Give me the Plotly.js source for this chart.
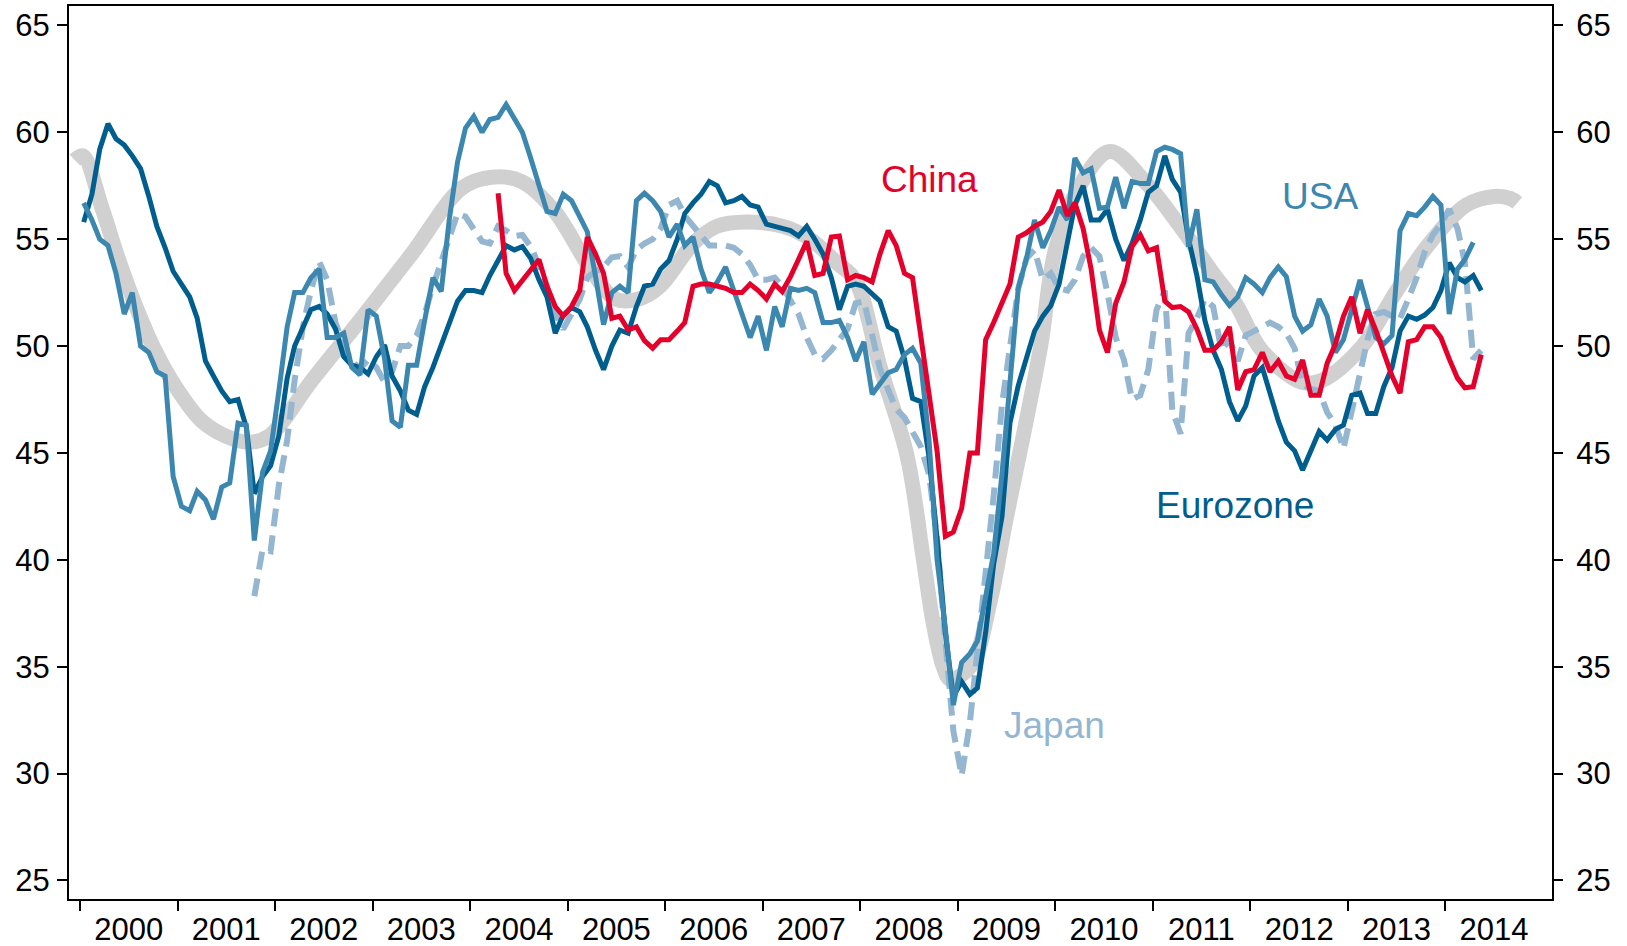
<!DOCTYPE html>
<html>
<head>
<meta charset="utf-8">
<script src="https://cdn.plot.ly/plotly-3.0.1.min.js"></script>
<style>
  html, body { margin: 0; padding: 0; background: #ffffff; }
  #chart { width: 1627px; height: 946px; }
</style>
</head>
<body>
<div id="chart"></div>
<script>
// ---------- Data (monthly PMI readings) ----------
// Eurozone: Jan 2000 - May 2014
const eurozoneStart = [2000, 1];
const eurozone = [
  55.8, 57.1, 59.2, 60.4, 59.7, 59.4, 58.9, 58.3, 57.0, 55.6, 54.6, 53.5,
  52.9, 52.3, 51.3, 49.3, 48.6, 47.9, 47.4, 47.5, 46.2, 43.1, 43.9, 44.4,
  45.8, 48.5, 50.0, 50.9, 51.7, 51.85, 51.5, 50.8, 49.5, 49.1, 49.0, 48.7,
  49.5, 50.05, 48.6, 47.9, 47.0, 46.8, 48.1, 49.0, 50.0, 51.1, 52.1, 52.6,
  52.6, 52.5, 53.3, 54.0, 54.7, 54.5, 54.65, 54.1, 53.1, 52.3, 50.6, 51.45,
  51.8, 51.6, 50.9, 49.8, 48.9, 50.0, 50.75, 50.6, 51.85, 52.8, 52.9, 53.6,
  54.0, 55.0, 56.2, 56.7, 57.1, 57.7, 57.5, 56.7, 56.8, 57.0, 56.6, 56.5,
  55.7, 55.6, 55.5, 55.4, 55.15, 55.6, 55.0, 54.3, 53.2, 51.7, 52.8, 52.9,
  52.8, 52.4, 52.1, 50.9, 50.7, 49.4, 47.55, 47.4, 44.8, 41.0, 36.6, 33.6,
  34.3, 33.7, 34.0, 36.6, 39.8, 42.0, 46.4, 48.15, 49.4, 50.7, 51.4, 51.9,
  52.9, 54.8, 56.6, 57.5, 55.9, 55.9, 56.4, 55.0, 54.0, 54.8, 55.9, 57.2,
  57.5, 58.9, 57.8, 57.2, 55.0, 53.3, 51.2, 49.8, 48.9, 47.4, 46.5, 47.2,
  48.6, 49.0, 47.7, 46.5, 45.5, 45.1, 44.2, 45.1, 46.0, 45.6, 46.1, 46.3,
  47.7, 47.8, 46.85, 46.85, 48.1, 49.0, 50.7, 51.4, 51.25, 51.45, 51.8, 52.6,
  53.9, 53.2, 53.0, 53.3, 52.6
];

// USA: Jan 2000 - Apr 2014
const usaStart = [2000, 1];
const usa = [
  56.7, 55.9, 55.0, 54.7, 53.4, 51.5, 52.5, 50.0, 49.7, 48.8, 48.6, 43.9,
  42.5, 42.3, 43.2, 42.8, 41.9, 43.4, 43.6, 46.4, 46.3, 40.9, 44.1, 45.1,
  47.9, 50.9, 52.5, 52.5, 53.2, 53.6, 50.4, 50.4, 50.6, 49.0, 48.65, 51.7,
  51.4, 49.4, 46.5, 46.2, 49.1, 49.1, 51.2, 53.2, 52.55, 55.9, 58.6, 60.2,
  60.75, 60.0, 60.6, 60.7, 61.3, 60.6, 60.0, 58.8, 57.5, 56.3, 56.2, 57.1,
  56.8, 56.1, 55.35, 53.25, 51.0, 52.5, 52.8, 52.5, 56.8, 57.15, 56.8, 56.3,
  55.1, 55.7, 54.7, 55.1, 53.6, 52.5, 53.0, 53.7, 52.55, 51.5, 50.4, 51.4,
  49.8, 51.85, 50.9, 52.7, 52.6, 52.7, 52.5, 51.1, 51.1, 51.2, 50.4, 49.3,
  50.2, 47.75, 48.25, 48.75, 48.9, 49.6, 49.9, 49.2, 45.6, 40.0, 36.8, 33.2,
  35.2, 35.6, 36.2, 38.4, 40.3, 44.0, 48.0, 52.7, 54.1, 55.9, 54.6, 55.4,
  56.5, 55.9, 58.8, 58.1, 58.3, 56.45, 56.5, 57.9, 56.45, 57.7, 57.6, 57.6,
  59.1, 59.3, 59.2, 59.0, 54.65, 56.4, 53.1, 53.0, 52.4, 51.9, 52.3, 53.2,
  52.9, 52.5, 53.2, 53.7, 53.25, 51.4, 50.7, 51.0, 52.2, 51.4, 49.7, 50.3,
  51.7, 53.1, 51.85, 50.4, 50.1, 50.5, 55.4, 56.2, 56.1, 56.5, 57.0, 56.6,
  51.5, 53.6, 54.05, 54.85
];

// China: Apr 2004 - May 2014
const chinaStart = [2004, 4];
const china = [
  57.15, 53.4, 52.6, 53.1, 53.6, 54.05, 52.8, 51.85, 51.4,
  51.85, 52.6, 55.1, 54.3, 53.4, 51.3, 51.4, 50.75, 50.9, 50.25, 49.9, 50.3,
  50.3, 50.7, 51.1, 52.8, 52.9, 52.9, 52.8, 52.7, 52.5, 52.5, 52.9, 52.6,
  52.2, 52.9, 52.55, 53.25, 54.05, 54.9, 53.3, 53.4, 55.1, 55.15, 53.1, 53.3,
  53.2, 53.0, 54.3, 55.4, 54.7, 53.4, 53.2, 50.5, 47.65, 45.1, 41.1, 41.3,
  42.4, 45.0, 45.0, 50.3, 51.1, 52.0, 52.9, 55.1, 55.3, 55.6, 55.8, 56.3,
  57.3, 56.1, 56.7, 55.5, 53.6, 50.75, 49.7, 52.0, 53.0, 54.65, 55.2, 54.45,
  54.6, 52.1, 51.8, 51.85, 51.6, 50.8, 49.8, 49.8, 50.2, 50.9, 47.95, 48.8,
  48.9, 49.7, 48.8, 49.3, 48.6, 48.45, 49.35, 47.7, 47.7, 49.2, 50.1, 51.4,
  52.3, 50.6, 51.7, 50.75, 49.7, 48.6, 47.8, 50.2, 50.3, 50.9, 50.9, 50.4,
  49.4, 48.5, 48.05, 48.1, 49.6
];

// Japan: Oct 2001 - May 2014
const japanStart = [2001, 10];
const japan = [
  38.3, 40.5, 40.4,
  43.5, 45.6, 48.4, 50.9, 52.6, 53.95, 53.1, 51.1, 50.0, 49.3, 48.95, 49.35,
  49.0, 48.3, 48.8, 50.0, 50.0, 50.5, 51.5, 52.8, 53.9, 55.1, 56.2, 56.05,
  55.5, 54.9, 54.8, 55.6, 55.4, 55.15, 55.2, 54.65, 53.8, 52.8, 51.5, 50.8,
  51.5, 52.2, 53.2, 53.5, 53.7, 54.15, 54.2, 53.7, 54.5, 54.8, 55.0, 55.5,
  56.6, 56.8, 56.1, 55.6, 55.2, 54.7, 54.7, 54.7, 54.6, 54.3, 53.8, 53.1,
  53.1, 53.2, 52.8, 52.2, 51.5, 50.4, 49.6, 49.4, 49.8, 50.3, 50.8, 52.0,
  52.1, 50.5, 48.95, 47.95, 47.05, 46.65, 46.0, 45.3, 44.0, 41.0, 36.2, 32.0,
  29.9, 32.4, 35.7, 39.2, 43.0, 47.25, 50.1, 52.7, 54.1, 54.5, 53.1, 53.4,
  52.7, 52.6, 53.1, 54.2, 54.6, 54.2, 52.5, 50.4, 49.35, 47.5, 47.7, 48.9,
  51.7, 52.6, 47.0, 45.9, 50.6, 51.3, 52.2, 51.85, 49.8, 50.3, 49.3, 50.5,
  50.7, 50.9, 51.1, 50.9, 50.6, 49.9, 48.2, 48.0, 47.9, 46.9, 46.3, 45.2,
  47.0, 48.6, 50.3, 51.5, 51.6, 51.4, 51.3, 52.2, 53.2, 54.4, 55.2, 55.7,
  56.4, 55.5, 53.9, 49.4, 49.8
];

// Global cycle (thick grey band): points read along its centre
const cycleDates = [
  '1999-12-13','2000-01-12','2000-03-25','2000-05-26','2000-07-27','2000-10-12','2000-12-24',
  '2001-04-01','2001-06-28','2001-09-24','2001-12-10','2002-05-19','2002-11-21','2003-05-27',
  '2003-12-02','2004-03-21','2004-07-12','2004-11-13','2005-03-18','2005-06-28','2005-09-24',
  '2005-12-13','2006-04-16','2006-07-13','2006-11-03','2007-03-18','2007-06-28','2007-10-05',
  '2007-12-13','2008-03-14','2008-06-24','2008-08-25','2008-10-01','2008-11-07','2008-12-02',
  '2009-01-01','2009-02-28','2009-05-01','2009-07-02','2009-09-06','2009-11-07','2010-01-01',
  '2010-04-02','2010-07-24','2010-12-09','2011-04-13','2011-08-15','2011-11-07','2012-02-13',
  '2012-07-13','2012-09-27','2013-02-24','2013-06-28','2013-10-27','2014-03-21','2014-07-02',
  '2014-09-02','2014-09-27'
];
const cycle = [
  58.7, 58.9, 56.4, 54.0, 51.9, 49.7, 48.1,
  46.5, 45.8, 45.5, 45.8, 48.4, 51.3, 54.3,
  57.4, 57.9, 57.7, 56.3, 53.8, 52.2, 52.2,
  52.8, 54.8, 55.6, 55.8, 55.6, 55.0, 53.9,
  53.1, 49.1, 44.9, 40.0, 37.0, 35.0, 34.4,
  34.5, 35.2, 38.0, 42.0, 46.0, 50.0, 54.5,
  57.5, 59.1, 57.6, 55.6, 53.4, 52.0, 49.8,
  48.3, 48.4, 50.0, 52.5, 54.7, 56.6, 57.0,
  56.9, 56.7
];

// Axis ticks
const yearTicks = ['2000','2001','2002','2003','2004','2005','2006','2007','2008','2009','2010','2011','2012','2013','2014'];
const yTicks = [25, 30, 35, 40, 45, 50, 55, 60, 65];

// Series labels
const labels = [
  { text: 'China',    x: '2008-09-15', y: 57.8,  color: '#e4002b' },
  { text: 'USA',      x: '2012-09-19', y: 56.98, color: '#3b87b0' },
  { text: 'Eurozone', x: '2011-11-03', y: 42.55, color: '#005e8e' },
  { text: 'Japan',    x: '2009-12-28', y: 32.26, color: '#94b6d0' }
];

// ---------- helpers ----------
function monthDates(start, n) {
  const out = [];
  let y = start[0], m = start[1];
  for (let i = 0; i < n; i++) {
    out.push(y + '-' + String(m).padStart(2, '0') + '-15');
    m++; if (m > 12) { m = 1; y++; }
  }
  return out;
}

const FONT = 'Liberation Sans, Arial, Helvetica, sans-serif';
const TICKSIZE = 31;
const xRange = ['1999-11-21', '2015-02-04'];
const yRange = [24.13, 65.91];

const traces = [
  { x: cycleDates, y: cycle, type: 'scatter', mode: 'lines', name: 'Cycle',
    line: { color: '#d0d0d0', width: 15, shape: 'spline', smoothing: 1 }, hoverinfo: 'skip' },
  { x: monthDates(japanStart, japan.length), y: japan, type: 'scatter', mode: 'lines', name: 'Japan',
    line: { color: '#94b6d0', width: 6, dash: '18px,9px' } },
  { x: monthDates(eurozoneStart, eurozone.length), y: eurozone, type: 'scatter', mode: 'lines', name: 'Eurozone',
    line: { color: '#005e8e', width: 5 } },
  { x: monthDates(usaStart, usa.length), y: usa, type: 'scatter', mode: 'lines', name: 'USA',
    line: { color: '#3b87b0', width: 5 } },
  { x: monthDates(chinaStart, china.length), y: china, type: 'scatter', mode: 'lines', name: 'China',
    line: { color: '#e4002b', width: 5 } },
  // carrier for the label axis (x2) and right-hand axis (y2)
  { x: [], y: [], xaxis: 'x2', yaxis: 'y2', type: 'scatter', mode: 'lines', showlegend: false, hoverinfo: 'skip' }
];

const layout = {
  width: 1627, height: 946,
  margin: { l: 69, r: 75, t: 6, b: 47, pad: 0 },
  paper_bgcolor: '#ffffff', plot_bgcolor: '#ffffff',
  showlegend: false,
  font: { family: FONT, size: TICKSIZE, color: '#000000' },
  xaxis: {
    type: 'date', range: xRange, fixedrange: true,
    tickmode: 'array',
    tickvals: yearTicks.map(y => y + '-01-01'),
    ticktext: yearTicks.map(() => ''),
    ticks: 'outside', ticklen: 10, tickwidth: 2, tickcolor: '#000',
    showline: true, linecolor: '#000', linewidth: 2, mirror: true,
    showgrid: false, zeroline: false
  },
  xaxis2: {
    type: 'date', range: xRange, overlaying: 'x', anchor: 'y', side: 'bottom', fixedrange: true,
    tickmode: 'array',
    tickvals: yearTicks.map(y => y + '-07-02'),
    ticktext: yearTicks,
    ticks: '', ticklen: 10, showline: false, showgrid: false, zeroline: false,
    ticklabelstandoff: 9,
    tickfont: { family: FONT, size: TICKSIZE, color: '#000' }
  },
  yaxis: {
    range: yRange, fixedrange: true,
    tickmode: 'array', tickvals: yTicks, ticktext: yTicks.map(String),
    ticks: 'outside', ticklen: 10, tickwidth: 2, tickcolor: '#000',
    showline: true, linecolor: '#000', linewidth: 2, mirror: true,
    showgrid: false, zeroline: false,
    ticklabelstandoff: 1,
    tickfont: { family: FONT, size: TICKSIZE, color: '#000' }
  },
  yaxis2: {
    range: yRange, overlaying: 'y', side: 'right', anchor: 'x', fixedrange: true,
    tickmode: 'array', tickvals: yTicks, ticktext: yTicks.map(String),
    ticks: 'outside', ticklen: 10, tickwidth: 2, tickcolor: '#000',
    showline: false, showgrid: false, zeroline: false,
    ticklabelstandoff: 7,
    tickfont: { family: FONT, size: TICKSIZE, color: '#000' }
  },
  annotations: labels.map(l => ({
    text: l.text, x: l.x, y: l.y, xref: 'x', yref: 'y',
    showarrow: false, xanchor: 'center', yanchor: 'middle',
    font: { family: FONT, size: 37, color: l.color }
  }))
};

Plotly.newPlot('chart', traces, layout, { displayModeBar: false, staticPlot: true });
</script>
</body>
</html>
